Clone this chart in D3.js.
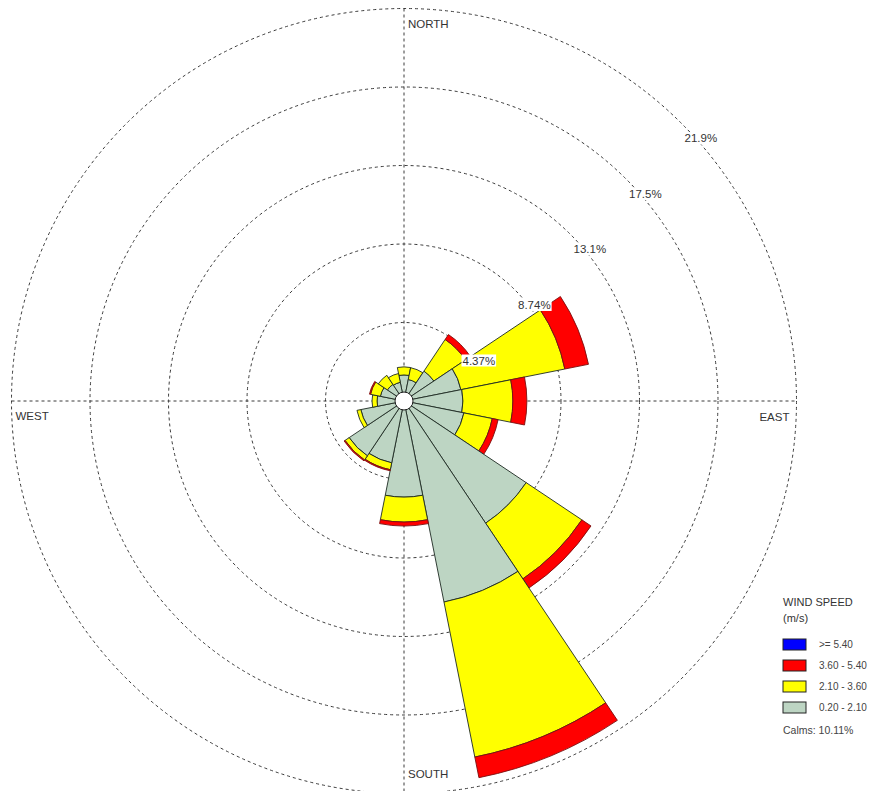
<!DOCTYPE html>
<html>
<head>
<meta charset="utf-8">
<script src="https://cdn.jsdelivr.net/npm/d3@7"></script>
<style>
  html, body { margin: 0; padding: 0; background: #ffffff; }
  svg { display: block; font-family: "Liberation Sans", Arial, sans-serif; }
</style>
</head>
<body>
<svg id="chart" width="877" height="791"></svg>
<script>
// ---- data (percent frequency) ----
const directions = ["N","NNE","NE","ENE","E","ESE","SE","SSE","S","SSW","SW","WSW","W","WNW","NW","NNW"];
const speedClasses = ["0.20 - 2.10", "2.10 - 3.60", "3.60 - 5.40", ">= 5.40"];
const classColors = ["#bdd5c3", "#ffff00", "#ff0000", "#0000ff"];
const speed020_210 = [1.45, 1.22, 2.00, 3.23, 3.28, 3.40, 8.18, 11.41, 5.35, 3.51, 3.67, 2.45, 1.50, 1.34, 1.11, 1.06];
const speed210_360 = [0.45, 0.67, 2.12, 5.90, 2.78, 1.61, 3.73, 8.80, 1.39, 0.39, 0.28, 0.22, 0.28, 0.56, 0.61, 0.50];
const speed360_540 = [0.00, 0.00, 0.33, 1.34, 0.78, 0.33, 0.61, 1.17, 0.22, 0.06, 0.06, 0.00, 0.00, 0.06, 0.00, 0.00];
const speedAbove540 = [0, 0, 0, 0, 0, 0, 0, 0, 0, 0, 0, 0, 0, 0, 0, 0];
const ringValues = [4.37, 8.74, 13.11, 17.48, 21.85];
const ringLabels = ["4.37%", "8.74%", "13.1%", "17.5%", "21.9%"];
const compassLabels = ["NORTH", "EAST", "SOUTH", "WEST"];
const calmsPct = 10.11;

// ---- layout ----
const svg = d3.select("#chart");
const cx = 404, cy = 401;
const maxR = 392.5;
const r = d3.scaleLinear().domain([0, 21.85]).range([0, maxR]);
const angle = d3.scaleBand().domain(directions).range([-Math.PI / 16, 2 * Math.PI - Math.PI / 16]);
const g = svg.append("g").attr("transform", `translate(${cx},${cy})`);

// grid circles
g.selectAll("circle.ring").data(ringValues).join("circle")
  .attr("class", "ring")
  .attr("r", d => r(d))
  .attr("fill", "none")
  .attr("stroke", "#3a3a3a")
  .attr("stroke-width", 1)
  .attr("stroke-dasharray", "3,3");

// axes
const R = r(ringValues[ringValues.length - 1]);
g.append("line").attr("x1", -R).attr("x2", R).attr("y1", 0).attr("y2", 0)
  .attr("stroke", "#3a3a3a").attr("stroke-dasharray", "3,3");
g.append("line").attr("x1", 0).attr("x2", 0).attr("y1", -R).attr("y2", R)
  .attr("stroke", "#3a3a3a").attr("stroke-dasharray", "3,3");

// petals
const classes = [speed020_210, speed210_360, speed360_540, speedAbove540];
const segs = [];
directions.forEach((dir, i) => {
  let cum = 0;
  classes.forEach((arr, k) => {
    const v = arr[i];
    if (v > 0) {
      segs.push({ dir, k, inner: cum, outer: cum + v });
    }
    cum += v;
  });
});
const arc = d3.arc()
  .innerRadius(d => r(d.inner))
  .outerRadius(d => r(d.outer))
  .startAngle(d => angle(d.dir))
  .endAngle(d => angle(d.dir) + angle.bandwidth());
g.selectAll("path.seg").data(segs).join("path")
  .attr("class", "seg")
  .attr("d", arc)
  .attr("fill", d => classColors[d.k])
  .attr("stroke", d => d.k === 2 ? "#7a1010" : "#1e2a22")
  .attr("stroke-width", 0.9)
  .attr("stroke-linejoin", "round");

// calm hole
g.append("circle").attr("r", 9).attr("fill", "#ffffff").attr("stroke", "#1e1e1e").attr("stroke-width", 1);

// ring labels (at 45 deg, hanging below-right of ring point)
ringValues.forEach((v, i) => {
  const px = r(v) * Math.SQRT1_2 + 3;
  const py = -r(v) * Math.SQRT1_2 + 19;
  const t = g.append("text").attr("x", px).attr("y", py)
    .attr("font-size", 11.5).attr("fill", "#333").text(ringLabels[i]);
  const bb = t.node().getBBox();
  g.insert("rect", () => t.node())
    .attr("x", bb.x - 1).attr("y", bb.y).attr("width", bb.width + 2).attr("height", bb.height)
    .attr("fill", "#ffffff");
});

// compass labels
const cl = [
  { t: compassLabels[0], x: 4, y: -R + 19.5, a: "start" },
  { t: compassLabels[1], x: R - 7, y: 20, a: "end" },
  { t: compassLabels[2], x: 4, y: 377, a: "start" },
  { t: compassLabels[3], x: -R + 4, y: 19, a: "start" }
];
cl.forEach(d => {
  g.append("text").attr("x", d.x).attr("y", d.y).attr("text-anchor", d.a)
    .attr("font-size", 11.5).attr("fill", "#333").text(d.t);
});

// legend
const lg = svg.append("g").attr("transform", "translate(783,0)");
lg.append("text").attr("x", 0).attr("y", 606).attr("font-size", 11).attr("fill", "#333").text("WIND SPEED");
lg.append("text").attr("x", 0).attr("y", 622).attr("font-size", 11).attr("fill", "#333").text("(m/s)");
const legendOrder = [3, 2, 1, 0];
const ly = d3.scaleBand().domain(legendOrder).range([639, 713]).paddingInner(0.476);
legendOrder.forEach(k => {
  lg.append("rect").attr("x", 0).attr("y", ly(k)).attr("width", 23).attr("height", ly.bandwidth())
    .attr("fill", classColors[k]).attr("stroke", "#222").attr("stroke-width", 1);
  lg.append("text").attr("x", 36).attr("y", ly(k) + ly.bandwidth() / 2 + 3.5)
    .attr("font-size", 10).attr("fill", "#444").text(speedClasses[k]);
});
lg.append("text").attr("x", 0).attr("y", 734).attr("font-size", 10.5).attr("fill", "#444")
  .text("Calms: " + calmsPct.toFixed(2) + "%");
</script>
</body>
</html>
